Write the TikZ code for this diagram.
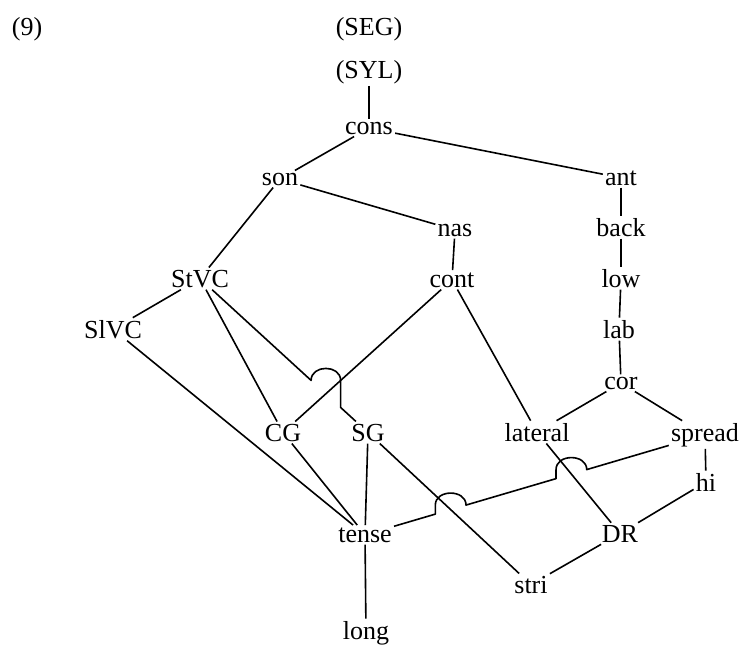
\documentclass[tikz,border=0pt]{standalone}
\usepackage{fontspec}
\setmainfont{Liberation Serif}
\usetikzlibrary{calc}
\begin{document}
\begin{tikzpicture}[x=1pt,y=-1pt,line width=1.6pt,line join=round,
  feat/.style={font=\fontsize{26}{31}\selectfont,inner sep=1.5pt,anchor=base}]
\useasboundingbox (0,0) rectangle (742,648);
\fill[white] (0,0) rectangle (742,648);
% nodes
\node[feat] (n9) at (27,35) {(9)};
\node[feat] (SEG) at (369,35) {(SEG)};
\node[feat] (SYL) at (369,78) {(SYL)};
\node[feat] (cons) at (369,134) {cons};
\node[feat] (son) at (280,185) {son};
\node[feat] (ant) at (621,185) {ant};
\node[feat] (nas) at (455,236) {nas};
\node[feat] (back) at (621,236) {back};
\node[feat] (StVC) at (200,287) {StVC};
\node[feat] (cont) at (452,287) {cont};
\node[feat] (low) at (621,287) {low};
\node[feat] (SlVC) at (113,338) {SlVC};
\node[feat] (lab) at (619,338) {lab};
\node[feat] (cor) at (621,389) {cor};
\node[feat] (CG) at (283,441) {CG};
\node[feat] (SG) at (368,441) {SG};
\node[feat] (lateral) at (537,441) {lateral};
\node[feat] (spread) at (705,441) {spread};
\node[feat] (hi) at (706,491) {hi};
\node[feat] (tense) at (365,542) {tense};
\node[feat] (DR) at (620,542) {DR};
\node[feat] (stri) at (531,593) {stri};
\node[feat] (long) at (366,639) {long};
% plain connectors
\draw (SYL) -- (cons);
\draw (cons) -- (son);
\draw (cons) -- (ant);
\draw (son) -- (StVC);
\draw (son) -- (nas);
\draw (nas) -- (cont);
\draw (ant) -- (back);
\draw (back) -- (low);
\draw (low) -- (lab);
\draw (lab) -- (cor);
\draw (StVC) -- (SlVC);
\draw (StVC) -- (CG);
\draw (cont) -- (CG);
\draw (cont) -- (lateral);
\draw (cor) -- (lateral);
\draw (cor) -- (spread);
\draw (spread) -- (hi);
\draw (hi) -- (DR);
\draw (lateral) -- (DR);
\draw (DR) -- (stri);
\draw (SG) -- (stri);
\draw (SG) -- (tense);
\draw (CG) -- (tense);
\draw (SlVC) -- (tense);
\draw (tense) -- (long);
% jump of StVC--SG over cont--CG
\coordinate (x1) at (intersection of StVC--SG and cont--CG);
\coordinate (x1L) at ($(x1)!20pt!(StVC)$);
\coordinate (x1R) at ($(x1)!20pt!(SG)$);
\coordinate (x1Rt) at (x1R |- x1L);
\draw (StVC) -- (x1L) .. controls ($(x1L)+(0,16pt)$) and ($(x1Rt)+(0,16pt)$) .. (x1Rt) -- (x1R) -- (SG);
% jumps of tense--spread
\coordinate (x2) at (intersection of tense--spread and SG--stri);
\coordinate (x3) at (intersection of tense--spread and lateral--DR);
\coordinate (x2L) at ($(x2)!16pt!(tense)$);
\coordinate (x2R) at ($(x2)!16pt!(spread)$);
\coordinate (x2Lt) at (x2L |- x2R);
\coordinate (x3L) at ($(x3)!16pt!(tense)$);
\coordinate (x3R) at ($(x3)!16pt!(spread)$);
\coordinate (x3Lt) at (x3L |- x3R);
\draw (tense) -- (x2L) -- (x2Lt) .. controls ($(x2Lt)+(0,16pt)$) and ($(x2R)+(0,16pt)$) .. (x2R)
  -- (x3L) -- (x3Lt) .. controls ($(x3Lt)+(0,16pt)$) and ($(x3R)+(0,16pt)$) .. (x3R) -- (spread);
\end{tikzpicture}
\end{document}
